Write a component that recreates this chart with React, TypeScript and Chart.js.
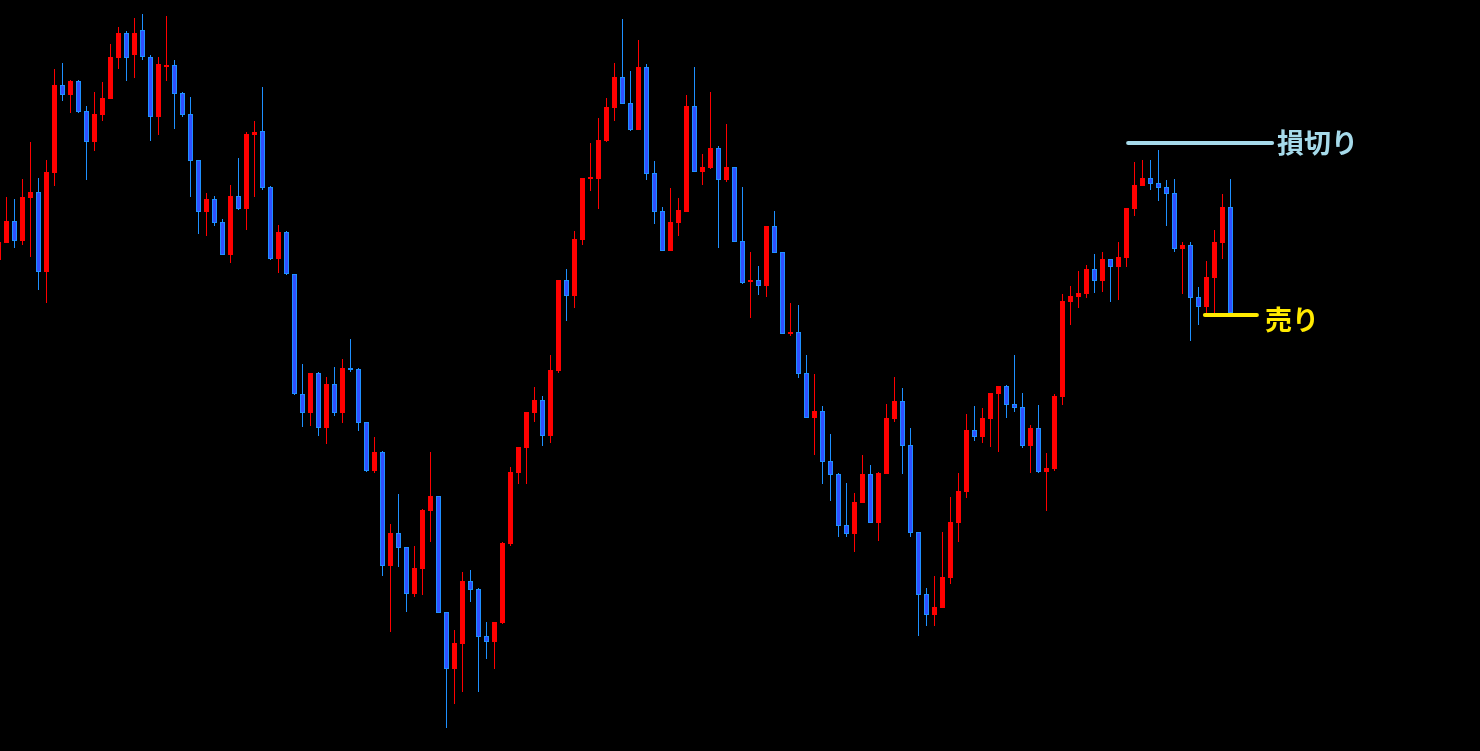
import React, { useEffect, useRef } from "react";
import { Chart, registerables } from "chart.js";

Chart.register(...registerables);

// ---- Candle data (price units, higher = up) ----
const opens = [
  491, 508, 530, 510, 553, 559, 479, 578, 666, 656,
  670, 640, 609, 636, 652, 693, 718, 696, 721, 694,
  634, 684, 686, 658, 637, 591, 539, 552, 529, 496,
  555, 542, 616, 620, 564, 492, 519, 477, 357, 338,
  378, 323, 367, 338, 383, 382, 329, 280, 299, 185,
  218, 204, 157, 182, 240, 255, 139, 82, 107, 170,
  162, 115, 109, 128, 207, 278, 303, 338, 351, 315,
  380, 471, 455, 511, 572, 572, 610, 643, 674, 648,
  621, 684, 578, 540, 500, 528, 539, 645, 579, 583,
  603, 571, 584, 510, 469, 471, 465, 525, 499, 417,
  419, 378, 333, 340, 290, 277, 226, 217, 248, 277,
  228, 277, 332, 350, 306, 219, 157, 136, 143, 173,
  228, 259, 321, 314, 332, 357, 365, 347, 344, 305,
  323, 279, 282, 354, 449, 454, 457, 482, 470, 492,
  484, 493, 542, 565, 573, 568, 564, 558, 502, 506,
  454, 444, 473, 508, 544,
];
const highs = [
  516, 554, 552, 572, 609, 573, 591, 682, 688, 671,
  671, 645, 659, 669, 707, 724, 720, 733, 737, 696,
  694, 735, 691, 659, 654, 591, 558, 555, 532, 566,
  593, 619, 630, 664, 565, 526, 520, 477, 387, 378,
  379, 374, 384, 392, 412, 383, 329, 314, 300, 227,
  257, 204, 205, 242, 299, 255, 139, 121, 179, 181,
  163, 129, 129, 209, 284, 304, 339, 364, 355, 396,
  471, 482, 520, 573, 608, 633, 653, 688, 732, 680,
  711, 687, 590, 544, 563, 553, 656, 684, 597, 659,
  605, 627, 584, 564, 499, 485, 525, 540, 499, 448,
  446, 396, 377, 345, 317, 278, 268, 258, 296, 286,
  279, 347, 374, 363, 323, 219, 163, 175, 219, 254,
  278, 337, 345, 343, 358, 365, 366, 396, 358, 326,
  346, 298, 357, 457, 465, 480, 486, 497, 499, 492,
  509, 543, 589, 591, 591, 601, 571, 572, 509, 509,
  464, 490, 521, 557, 572,
];
const lows = [
  489, 508, 503, 506, 494, 461, 448, 565, 650, 638,
  638, 571, 600, 630, 652, 682, 670, 673, 691, 610,
  616, 670, 622, 634, 554, 517, 515, 525, 496, 488,
  541, 521, 554, 561, 491, 478, 476, 356, 324, 325,
  315, 307, 335, 328, 379, 320, 279, 278, 175, 119,
  184, 139, 154, 156, 209, 138, 23, 47, 59, 149,
  59, 92, 82, 127, 205, 267, 267, 329, 305, 308,
  378, 430, 443, 506, 560, 542, 609, 630, 647, 620,
  621, 571, 527, 500, 500, 515, 539, 579, 566, 582,
  503, 569, 509, 467, 433, 456, 454, 498, 417, 415,
  373, 333, 296, 267, 250, 214, 214, 199, 248, 228,
  210, 277, 329, 277, 214, 115, 125, 125, 143, 167,
  209, 253, 310, 308, 304, 299, 333, 339, 303, 278,
  278, 240, 280, 346, 426, 443, 453, 458, 459, 449,
  451, 484, 535, 565, 561, 550, 525, 499, 457, 410,
  426, 438, 438, 492, 438,
];
const closes = [
  509, 530, 510, 554, 559, 479, 579, 666, 656, 670,
  639, 609, 637, 653, 694, 718, 693, 718, 694, 634,
  687, 686, 657, 636, 590, 539, 552, 528, 496, 555,
  542, 617, 619, 563, 492, 519, 477, 357, 338, 378,
  323, 367, 338, 383, 381, 328, 280, 299, 185, 218,
  203, 157, 183, 241, 255, 138, 82, 108, 170, 161,
  114, 109, 129, 208, 279, 304, 339, 351, 315, 381,
  471, 455, 512, 573, 574, 611, 644, 674, 647, 621,
  684, 577, 539, 500, 529, 541, 645, 579, 584, 603,
  571, 584, 509, 468, 471, 465, 525, 498, 417, 419,
  377, 333, 340, 289, 276, 225, 217, 249, 277, 228,
  278, 333, 350, 305, 218, 156, 136, 144, 174, 229,
  260, 321, 314, 333, 358, 365, 346, 343, 305, 323,
  279, 283, 355, 450, 455, 458, 482, 470, 492, 484,
  494, 543, 566, 573, 567, 563, 557, 502, 506, 453,
  444, 474, 509, 544, 438,
];

// ---- Horizontal levels ----
const levelTexts = ["損切り", "売り"];
const levelPrices = [608, 436];
const levelFrom = [141.2, 150.8];
const levelTo = [159.2, 157.3];

const UP_COLOR = "#FF0000";
const DOWN_FILL = "#3050FF";
const DOWN_EDGE = "#1E90FF";
const LEVEL_COLORS = ["#A6DAEA", "#FFEA00"];
const LABEL_OFFSETS = [
  { dx: 3, dy: 0 },
  { dx: 6, dy: 5 },
];

export default function App() {
  const ref = useRef<HTMLCanvasElement | null>(null);

  useEffect(() => {
    document.body.style.margin = "0";
    document.body.style.background = "#000";
    const canvas = ref.current;
    if (!canvas) return;

    const idx = opens.map((_, i) => i);
    const isUp = idx.map((i) => closes[i] >= opens[i]);

    const labelPlugin = {
      id: "levelLabels",
      afterDatasetsDraw(chart: any) {
        const { ctx, scales } = chart;
        ctx.save();
        ctx.font = 'bold 27px "Noto Sans CJK JP"';
        ctx.textBaseline = "middle";
        ctx.textAlign = "left";
        levelTexts.forEach((t, i) => {
          ctx.fillStyle = LEVEL_COLORS[i];
          const px = scales.x.getPixelForValue(levelTo[i]) + 2 + LABEL_OFFSETS[i].dx;
          const py = scales.y.getPixelForValue(levelPrices[i]) + LABEL_OFFSETS[i].dy;
          ctx.fillText(t, px, py);
        });
        ctx.restore();
      },
    };

    const chart = new Chart(canvas, {
      type: "bar",
      data: {
        datasets: [
          ...levelTexts.map((t, i) => ({
            type: "line" as const,
            label: t,
            data: [
              { x: levelFrom[i], y: levelPrices[i] },
              { x: levelTo[i], y: levelPrices[i] },
            ],
            borderColor: LEVEL_COLORS[i],
            borderWidth: 4,
            borderCapStyle: "round" as const,
            pointRadius: 0,
            order: 0,
          })),
          {
            type: "bar" as const,
            label: "body",
            data: idx.map((i) => ({ x: i, y: [opens[i], closes[i]] })),
            backgroundColor: idx.map((i) => (isUp[i] ? UP_COLOR : DOWN_FILL)),
            borderColor: idx.map((i) => (isUp[i] ? UP_COLOR : DOWN_EDGE)),
            borderWidth: 1,
            borderSkipped: false,
            barThickness: 5,
            maxBarThickness: 5,
            grouped: false,
            inflateAmount: 0,
            order: 1,
          },
          {
            type: "bar" as const,
            label: "wick",
            data: idx.map((i) => ({ x: i, y: [lows[i], highs[i]] })),
            backgroundColor: idx.map((i) => (isUp[i] ? UP_COLOR : DOWN_EDGE)),
            borderWidth: 0,
            barThickness: 1,
            maxBarThickness: 1,
            grouped: false,
            inflateAmount: 0,
            order: 2,
          },
        ] as any,
      },
      options: {
        animation: false,
        responsive: false,
        maintainAspectRatio: false,
        devicePixelRatio: 1,
        layout: { padding: 0 },
        plugins: {
          legend: { display: false },
          tooltip: { enabled: false },
        },
        scales: {
          x: {
            type: "linear",
            display: false,
            offset: false,
            min: 0.1875,
            max: 185.1875,
          },
          y: {
            type: "linear",
            display: false,
            min: 0,
            max: 751,
          },
        },
      },
      plugins: [labelPlugin],
    } as any);

    return () => chart.destroy();
  }, []);

  return (
    <div
      style={{
        position: "absolute",
        left: 0,
        top: 0,
        width: 1480,
        height: 751,
        background: "#000",
      }}
    >
      <canvas ref={ref} width={1480} height={751} style={{ display: "block", width: 1480, height: 751 }} />
    </div>
  );
}
